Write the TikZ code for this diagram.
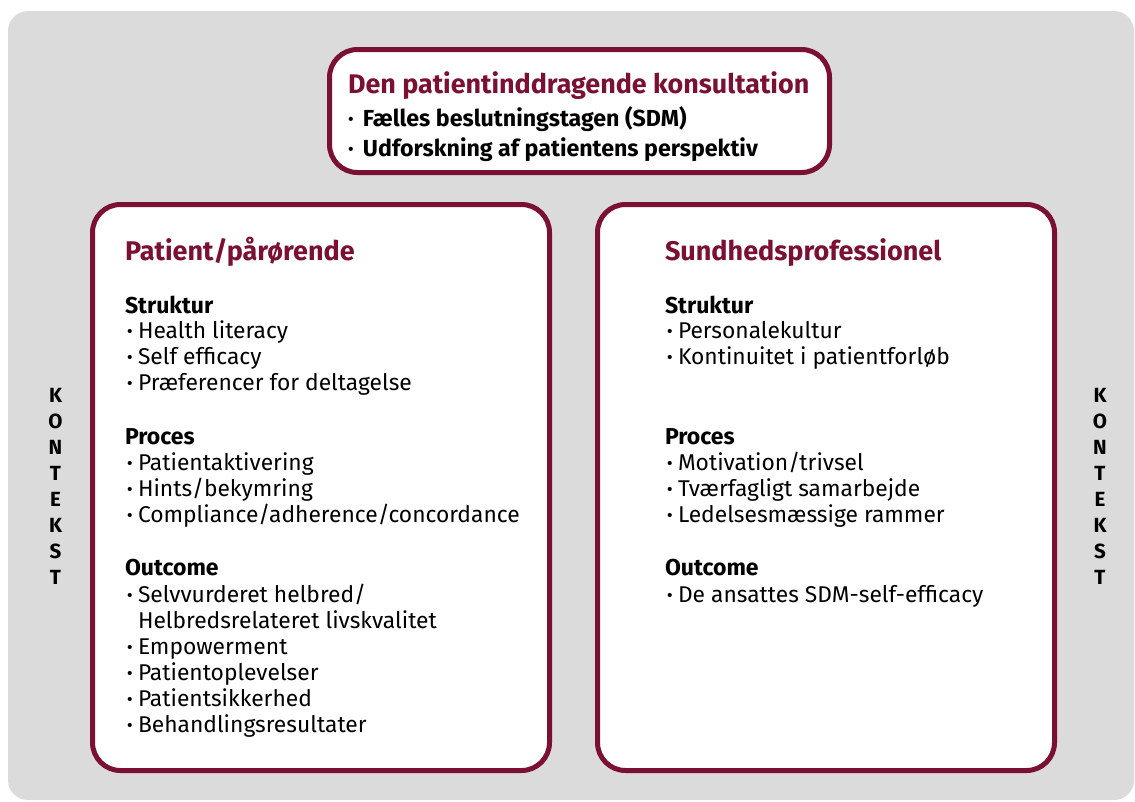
\documentclass[tikz,border=0pt]{standalone}
\usepackage{fontspec}
\setmainfont{Fira Sans}
\definecolor{maroon}{RGB}{122,16,50}
\definecolor{bggray}{RGB}{219,219,219}
\newcommand\itembul{\makebox[11pt][l]{\textbf{·}}}
\newcommand\topbul{\makebox[15pt][l]{\textbf{·}}}
\begin{document}
\begin{tikzpicture}[x=1pt,y=-1pt,
  panel/.style={draw=maroon, line width=5pt, fill=white, rounded corners=28pt, inner sep=0pt},
  txt/.style={anchor=base west, inner sep=0pt, outer sep=0pt},
  ttltxt/.style={txt, text=maroon, font=\fontsize{26.9}{30}\selectfont\bfseries},
  topitem/.style={txt, font=\fontsize{23.2}{26}\selectfont\bfseries},
  hdrtxt/.style={txt, text=maroon, font=\fontsize{27}{30}\selectfont\bfseries},
  subtxt/.style={txt, font=\fontsize{23}{26}\selectfont\bfseries},
  itemtxt/.style={txt, font=\fontsize{22.8}{26}\selectfont},
  ktxt/.style={inner sep=0pt, align=center, font=\fontsize{20.5}{26}\selectfont\bfseries}
]
\useasboundingbox (0,0) rectangle (1135,801);
\fill[white] (0,0) rectangle (1135,801);
\fill[bggray, rounded corners=20pt] (8,11) rectangle (1134,800);

% panels
\node[panel, minimum width=500pt, minimum height=123pt] (top) at (579.5,111) {};
\node[panel, minimum width=457pt, minimum height=566pt] (left) at (321,487.5) {};
\node[panel, minimum width=457pt, minimum height=566pt] (right) at (826,487.5) {};

% top box text
\node[ttltxt] (t0) at (348,93) {Den patientinddragende konsultation};
\node[topitem] (t1) at (348,126) {\topbul Fælles beslutningstagen (SDM)};
\node[topitem] (t2) at (348,156) {\topbul Udforskning af patientens perspektiv};

% left panel
\node[hdrtxt] (lh) at (125,260) {Patient/pårørende};
\node[subtxt] (ls1) at (125,313) {Struktur};
\node[itemtxt] (la1) at (127,338) {\itembul Health literacy};
\node[itemtxt] (la2) at (127,364) {\itembul Self efficacy};
\node[itemtxt] (la3) at (127,390) {\itembul Præferencer for deltagelse};
\node[subtxt] (ls2) at (125,444) {Proces};
\node[itemtxt] (lb1) at (127,470) {\itembul Patientaktivering};
\node[itemtxt] (lb2) at (127,496) {\itembul Hints/bekymring};
\node[itemtxt] (lb3) at (127,522) {\itembul Compliance/adherence/concordance};
\node[subtxt] (ls3) at (125,575) {Outcome};
\node[itemtxt] (lc1) at (127,602) {\itembul Selvvurderet helbred/};
\node[itemtxt] (lc2) at (127,628) {\hspace*{11pt}Helbredsrelateret livskvalitet};
\node[itemtxt] (lc3) at (127,654) {\itembul Empowerment};
\node[itemtxt] (lc4) at (127,680) {\itembul Patientoplevelser};
\node[itemtxt] (lc5) at (127,706) {\itembul Patientsikkerhed};
\node[itemtxt] (lc6) at (127,732) {\itembul Behandlingsresultater};

% right panel
\node[hdrtxt] (rh) at (665,260) {Sundhedsprofessionel};
\node[subtxt] (rs1) at (665,313) {Struktur};
\node[itemtxt] (ra1) at (667,338) {\itembul Personalekultur};
\node[itemtxt] (ra2) at (667,364) {\itembul Kontinuitet i patientforløb};
\node[subtxt] (rs2) at (665,444) {Proces};
\node[itemtxt] (rb1) at (667,470) {\itembul Motivation/trivsel};
\node[itemtxt] (rb2) at (667,496) {\itembul Tværfagligt samarbejde};
\node[itemtxt] (rb3) at (667,522) {\itembul Ledelsesmæssige rammer};
\node[subtxt] (rs3) at (665,575) {Outcome};
\node[itemtxt] (rc1) at (667,602) {\itembul De ansattes SDM-self-efficacy};

% kontekst
\node[ktxt, anchor=north] (kl) at (55.5,388) {K\\O\\N\\T\\E\\K\\S\\T};
\node[ktxt, anchor=north] (kr) at (1100,388) {K\\O\\N\\T\\E\\K\\S\\T};
\end{tikzpicture}
\end{document}
